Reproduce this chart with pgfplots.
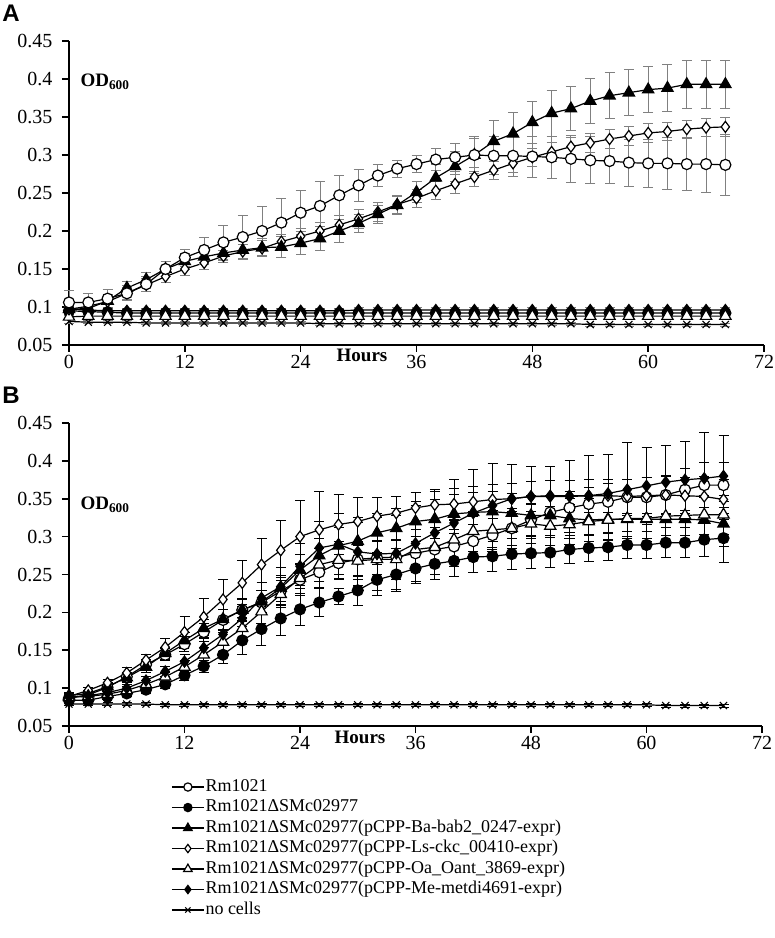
\documentclass[border=0pt]{standalone}
\usepackage{fontspec}
\setmainfont{Liberation Serif}
\newfontfamily\panelfont{Liberation Sans}
\usepackage{pgfplots}
\usepackage{pgfplotstable}
\pgfplotsset{compat=1.18}

% t, then value and SD for each strain
% a Rm1021, b dSMc02977, c Ba-bab2, d Ls-ckc, e Oa_Oant, f Me-metdi, g no cells
\pgfplotstableread{
t  a    ea   b    eb   c    ec   d    ed   e    ee   f    ef   g    eg
0  .106 .016 .095 .004 .097 .008 .097 .008 .087 .003 .097 .004 .081 .002
2  .106 .012 .094 .004 .098 .008 .101 .008 .088 .003 .096 .004 .080 .002
4  .111 .012 .093 .003 .108 .008 .107 .008 .088 .003 .095 .003 .080 .002
6  .118 .010 .092 .003 .125 .009 .118 .008 .088 .003 .095 .003 .080 .002
8  .130 .010 .092 .003 .136 .010 .129 .009 .088 .003 .095 .003 .079 .002
10 .150 .010 .092 .003 .150 .010 .140 .008 .088 .003 .095 .003 .079 .002
12 .165 .011 .092 .003 .160 .010 .150 .008 .088 .003 .095 .003 .079 .002
14 .175 .017 .092 .003 .166 .010 .158 .008 .088 .003 .095 .003 .079 .002
16 .185 .022 .092 .003 .171 .010 .167 .008 .088 .003 .095 .003 .079 .002
18 .192 .028 .092 .003 .175 .012 .173 .009 .088 .003 .095 .003 .079 .002
20 .200 .032 .092 .003 .178 .012 .177 .010 .088 .003 .095 .003 .079 .002
22 .211 .032 .092 .003 .179 .014 .186 .010 .088 .003 .095 .003 .079 .002
24 .224 .029 .092 .003 .184 .015 .193 .010 .088 .003 .095 .003 .079 .002
26 .233 .032 .092 .003 .190 .016 .200 .011 .088 .003 .095 .003 .078 .002
28 .247 .026 .092 .003 .200 .015 .208 .012 .088 .003 .095 .003 .078 .002
30 .260 .021 .092 .003 .210 .012 .216 .012 .088 .003 .096 .003 .078 .002
32 .273 .014 .092 .003 .222 .012 .225 .012 .088 .003 .096 .003 .078 .002
34 .282 .011 .092 .003 .234 .012 .235 .012 .088 .003 .096 .003 .078 .002
36 .288 .011 .092 .003 .251 .014 .243 .012 .088 .003 .096 .003 .078 .002
38 .294 .014 .092 .003 .270 .017 .253 .012 .088 .003 .096 .003 .078 .002
40 .297 .018 .092 .003 .285 .020 .262 .012 .088 .003 .096 .003 .078 .002
42 .300 .022 .092 .003 .300 .024 .271 .012 .088 .003 .096 .003 .078 .002
44 .299 .025 .092 .003 .318 .027 .280 .012 .088 .003 .096 .003 .078 .002
46 .299 .027 .092 .003 .328 .028 .289 .012 .088 .003 .096 .003 .078 .002
48 .298 .027 .092 .003 .343 .028 .297 .012 .088 .003 .096 .003 .078 .002
50 .297 .028 .092 .003 .355 .030 .304 .012 .088 .003 .096 .003 .078 .002
52 .295 .031 .092 .003 .361 .029 .311 .012 .088 .003 .096 .003 .078 .002
54 .293 .031 .092 .003 .371 .030 .316 .012 .088 .003 .096 .003 .077 .002
56 .292 .030 .092 .003 .378 .030 .321 .012 .088 .003 .096 .003 .077 .002
58 .290 .031 .092 .003 .382 .030 .325 .012 .088 .003 .096 .003 .077 .002
60 .289 .032 .092 .003 .386 .030 .329 .012 .088 .003 .096 .003 .077 .002
62 .289 .034 .092 .003 .388 .031 .331 .012 .088 .003 .096 .003 .077 .002
64 .288 .035 .092 .003 .393 .032 .334 .012 .088 .003 .096 .003 .077 .002
66 .288 .037 .092 .003 .393 .032 .336 .012 .088 .003 .096 .003 .077 .002
68 .287 .040 .092 .003 .393 .032 .337 .012 .088 .003 .096 .003 .077 .002
}\dataA

\pgfplotstableread{
t  a    ea   b    eb   c    ec   d    ed   e    ee   f    ef   g    eg
0  .087 .004 .084 .004 .090 .004 .089 .004 .088 .004 .088 .004 .079 .002
2  .091 .004 .084 .004 .093 .004 .097 .004 .089 .004 .090 .004 .079 .002
4  .101 .005 .089 .004 .102 .005 .107 .005 .092 .004 .094 .004 .079 .002
6  .115 .006 .093 .004 .114 .006 .120 .007 .097 .005 .100 .005 .079 .002
8  .131 .007 .098 .005 .128 .007 .137 .008 .105 .005 .110 .005 .079 .002
10 .144 .008 .105 .006 .146 .008 .154 .012 .115 .006 .122 .007 .078 .002
12 .158 .010 .117 .007 .163 .010 .174 .020 .128 .008 .135 .010 .078 .002
14 .174 .012 .129 .008 .179 .012 .194 .025 .144 .010 .153 .012 .078 .002
16 .190 .014 .144 .012 .191 .013 .217 .027 .161 .012 .171 .014 .078 .002
18 .203 .015 .163 .018 .203 .014 .239 .029 .179 .014 .192 .016 .078 .002
20 .213 .016 .178 .022 .214 .015 .263 .034 .201 .016 .219 .020 .078 .002
22 .228 .018 .192 .022 .232 .017 .282 .040 .224 .018 .234 .025 .078 .002
24 .243 .020 .204 .021 .256 .020 .300 .048 .245 .020 .261 .030 .078 .002
26 .253 .020 .213 .018 .275 .022 .309 .050 .263 .022 .285 .035 .078 .002
28 .265 .022 .221 .010 .288 .024 .316 .040 .269 .024 .290 .040 .078 .002
30 .270 .022 .229 .020 .294 .025 .320 .032 .268 .025 .280 .045 .078 .002
32 .272 .022 .243 .020 .305 .026 .327 .025 .270 .025 .277 .048 .078 .002
34 .273 .022 .250 .020 .311 .026 .331 .022 .270 .026 .278 .050 .078 .002
36 .278 .022 .258 .020 .320 .026 .338 .020 .283 .026 .291 .050 .078 .002
38 .283 .022 .264 .020 .323 .026 .342 .020 .286 .026 .305 .055 .078 .002
40 .287 .022 .268 .020 .330 .026 .343 .020 .296 .026 .318 .058 .078 .002
42 .294 .022 .273 .020 .332 .026 .346 .020 .307 .026 .331 .058 .078 .002
44 .302 .022 .274 .020 .333 .026 .349 .020 .309 .026 .341 .055 .078 .002
46 .311 .022 .277 .020 .331 .026 .350 .020 .311 .026 .350 .045 .078 .002
48 .322 .022 .278 .020 .328 .026 .353 .020 .317 .026 .353 .040 .078 .002
50 .332 .022 .279 .020 .328 .026 .354 .020 .314 .026 .353 .040 .078 .002
52 .338 .022 .283 .018 .324 .026 .354 .020 .316 .026 .353 .047 .078 .002
54 .343 .022 .285 .018 .322 .028 .354 .022 .320 .026 .354 .053 .078 .002
56 .346 .024 .286 .018 .323 .028 .354 .022 .322 .026 .357 .051 .078 .002
58 .352 .024 .289 .018 .323 .030 .353 .022 .324 .026 .362 .062 .078 .002
60 .352 .026 .289 .018 .323 .030 .354 .024 .324 .026 .367 .051 .078 .002
62 .355 .026 .292 .020 .323 .030 .355 .024 .327 .026 .372 .048 .077 .002
64 .362 .028 .292 .020 .323 .030 .354 .024 .328 .026 .375 .051 .077 .002
66 .368 .030 .296 .022 .322 .030 .353 .026 .329 .026 .377 .060 .077 .002
68 .368 .030 .298 .032 .317 .030 .349 .026 .329 .026 .380 .053 .077 .002
}\dataB

\pgfplotsset{
  growth/.style={
    scale only axis,
    xmin=0, xmax=72, ymin=0.05, ymax=0.45,
    xtick={0,12,24,36,48,60,72},
    xticklabels={0,12,24,36,48,60,72},
    ytick={0.05,0.1,0.15,0.2,0.25,0.3,0.35,0.4,0.45},
    yticklabels={0.05,0.1,0.15,0.2,0.25,0.3,0.35,0.4,0.45},
    axis x line*=bottom, axis y line*=left,
    axis line style={-, line width=1.6pt},
    tick align=outside, major tick length=7pt,
    every tick/.style={black, line width=1.6pt},
    tick label style={font=\fontsize{20}{24}\selectfont},
    yticklabel style={xshift=-6pt},
    clip=false,
  },
  ser/.style={black, line width=1.2pt, mark options={solid, line width=1.1pt}},
  sa/.style={ser, mark=*, mark size=5.5pt, mark options={fill=white}},
  sb/.style={ser, mark=*, mark size=5.5pt, mark options={fill=black}},
  sc/.style={ser, mark=triangle*, mark size=6.5pt, mark options={fill=black}},
  sd/.style={ser, mark=diamond*, mark size=5.5pt, mark options={fill=white}},
  se/.style={ser, mark=triangle*, mark size=6.5pt, mark options={fill=white}},
  sf/.style={ser, mark=diamond*, mark size=5.5pt, mark options={fill=black}},
  sg/.style={ser, mark=x, mark size=5pt},
  errA/.style={error bars/.cd, y dir=both, y explicit, error mark=|,
    error bar style={line width=0.9pt, gray},
    error mark options={line width=0.9pt, gray, mark size=5pt}},
  errB/.style={error bars/.cd, y dir=both, y explicit, error mark=|,
    error bar style={line width=0.9pt, black},
    error mark options={line width=0.9pt, black, mark size=5pt}},
}

\begin{document}
\begin{tikzpicture}
\useasboundingbox (0pt,0pt) rectangle (775pt,938pt);

% panel A
\begin{axis}[growth, at={(69pt,593pt)}, anchor=south west, width=695pt, height=304pt]
  \addplot[sg, errA] table[x=t, y=g, y error=eg] {\dataA};
  \addplot[sb, errA] table[x=t, y=b, y error=eb] {\dataA};
  \addplot[sf, errA] table[x=t, y=f, y error=ef] {\dataA};
  \addplot[se, errA] table[x=t, y=e, y error=ee] {\dataA};
  \addplot[sd, errA] table[x=t, y=d, y error=ed] {\dataA};
  \addplot[sc, errA] table[x=t, y=c, y error=ec] {\dataA};
  \addplot[sa, errA] table[x=t, y=a, y error=ea] {\dataA};
\end{axis}

% panel B
\begin{axis}[growth, at={(69pt,212pt)}, anchor=south west, width=693pt, height=303pt,
  legend style={at={(0.143,-0.162)}, anchor=north west, draw=none, fill=none,
    font=\fontsize{18}{20}\selectfont, row sep=1pt,
    nodes={inner sep=1pt, text height=13pt, text depth=4.5pt}},
  legend cell align=left,
  legend image code/.code={\draw[mark repeat=2, mark phase=2, #1, every mark/.append style={scale=0.75}]
    plot coordinates {(0pt,0pt) (16pt,0pt) (32pt,0pt)};}]
  \addplot[sa, errB] table[x=t, y=a, y error=ea] {\dataB};
  \addplot[sb, errB] table[x=t, y=b, y error=eb] {\dataB};
  \addplot[sc, errB] table[x=t, y=c, y error=ec] {\dataB};
  \addplot[sd, errB] table[x=t, y=d, y error=ed] {\dataB};
  \addplot[se, errB] table[x=t, y=e, y error=ee] {\dataB};
  \addplot[sf, errB] table[x=t, y=f, y error=ef] {\dataB};
  \addplot[sg, errB] table[x=t, y=g, y error=eg] {\dataB};
  \legend{Rm1021, Rm1021ΔSMc02977,
    Rm1021ΔSMc02977(pCPP-Ba-bab2\_0247-expr),
    Rm1021ΔSMc02977(pCPP-Ls-ckc\_00410-expr),
    Rm1021ΔSMc02977(pCPP-Oa\_Oant\_3869-expr),
    Rm1021ΔSMc02977(pCPP-Me-metdi4691-expr),
    no cells}
\end{axis}

% panel letters and axis captions
\node[font=\panelfont\bfseries\fontsize{24}{28}\selectfont] at (11pt,925pt) {A};
\node[font=\panelfont\bfseries\fontsize{24}{28}\selectfont] at (11pt,543pt) {B};
\node[font=\bfseries\fontsize{19}{22}\selectfont] at (105pt,856pt) {OD\textsubscript{600}};
\node[font=\bfseries\fontsize{19}{22}\selectfont] at (105pt,433pt) {OD\textsubscript{600}};
\node[font=\bfseries\fontsize{19}{22}\selectfont] at (362pt,583pt) {Hours};
\node[font=\bfseries\fontsize{19}{22}\selectfont] at (360pt,201pt) {Hours};
\end{tikzpicture}
\end{document}
